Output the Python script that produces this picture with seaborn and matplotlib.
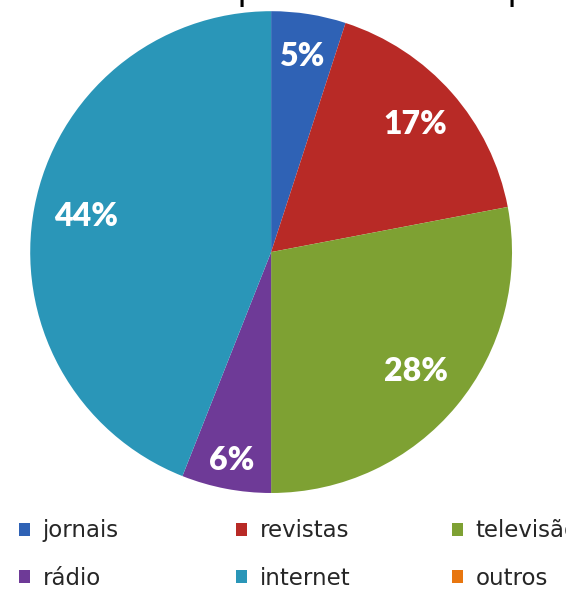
import numpy as np
import matplotlib
matplotlib.use("Agg")
import matplotlib.pyplot as plt
from matplotlib.patches import Patch
import seaborn as sns

# data
categories = ["jornais", "revistas", "televisão", "rádio", "internet", "outros"]
shares = [5, 17, 28, 6, 44, 0]
colors = ["#2F62B5", "#B82A26", "#7EA133", "#6E3A97", "#2A96B8", "#E8760F"]
label_dist = [0.82, 0.8, 0.78, 0.88, 0.78, 0.8]
title_text = "Sua relação com esses produtos da empresa"

sns.set_theme(style="white")
plt.rcParams["font.family"] = ["Lato", "DejaVu Sans"]

fig = plt.figure(figsize=(5.66, 5.89), dpi=100)
fig.patch.set_facecolor("white")

ax = fig.add_axes([0.053, 0.163, 0.852, 0.818])
wedges, _ = ax.pie(shares, colors=colors, startangle=90, counterclock=False,
                   radius=1.0, wedgeprops=dict(linewidth=0))
ax.set_xlim(-1, 1)
ax.set_ylim(-1, 1)
ax.set_aspect("equal")
ax.axis("off")

# percentage labels placed along each wedge's middle angle
for w, val, d in zip(wedges, shares, label_dist):
    if val == 0:
        continue
    ang = np.deg2rad((w.theta1 + w.theta2) / 2)
    ax.text(d * np.cos(ang), d * np.sin(ang), f"{val}%", ha="center", va="center",
            color="white", fontsize=23, fontweight="heavy")

# title, mostly cut off by the top edge as in the reference
fig.text(1.064, 0.9995, title_text, ha="right", va="baseline", fontsize=24.6,
         color="black", family=["DejaVu Sans"])

# legend laid out in rows: one small legend per column
col_x = [0.033, 0.417, 0.798]
for c, x in enumerate(col_x):
    idx = [c, c + 3]
    handles = [Patch(facecolor=colors[i], edgecolor="none") for i in idx]
    fig.legend(handles, [categories[i] for i in idx], loc="upper left",
               bbox_to_anchor=(x, 0.118), frameon=False,
               prop=dict(family="DejaVu Sans", size=16.5),
               handlelength=0.5, handleheight=0.5, handletextpad=0.55,
               labelspacing=1.05, borderaxespad=0, borderpad=0)

fig.savefig("out.png", dpi=100, facecolor="white")
